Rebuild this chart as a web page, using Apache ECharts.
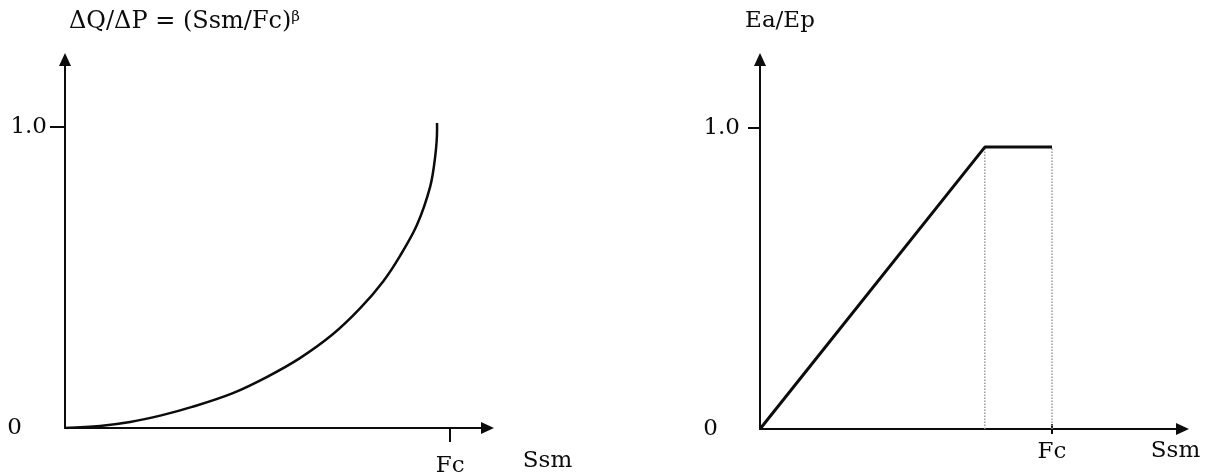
<!DOCTYPE html>
<html>
<head>
<meta charset="utf-8">
<script src="https://cdn.jsdelivr.net/npm/echarts@6/dist/echarts.min.js"></script>
<style>
  html, body { margin: 0; padding: 0; background: #fff; }
  #chart { width: 1211px; height: 474px; }
</style>
</head>
<body>
<div id="chart"></div>
<script>
// Runoff ratio ΔQ/ΔP against soil moisture storage (Ssm, Fc = field capacity)
const runoffSsm   = [0, 0.091, 0.169, 0.250, 0.330, 0.436, 0.525, 0.610, 0.696, 0.766, 0.826, 0.870, 0.914, 0.948, 0.961, 0.966, 0.966];
const runoffRatio = [0, 0.007, 0.020, 0.042, 0.070, 0.116, 0.170, 0.232, 0.312, 0.397, 0.487, 0.572, 0.675, 0.801, 0.900, 0.990, 1.013];

// Actual / potential evapotranspiration against soil moisture storage
const evapSsm   = [0, 0.77, 1.0];
const evapRatio = [0, 0.937, 0.937];

// Dotted guides dropping from the plateau corners to the axis
const guideSsm = [0.77, 1.0];
const guideTop = 0.937;

// Tick labels
const yTickValues = [0, 1];
const yTickLabels = ['0', '1.0'];
const xTickValues = [1];
const xTickLabels = ['Fc'];
const xName = 'Ssm';
const leftTitle = 'ΔQ/ΔP = (Ssm/Fc)';
const leftTitleExp = 'β';
const rightTitle = 'Ea/Ep';

const FONT = 'DejaVu Serif';
const INK = '#0c0c0c';
const FS = 23;

const zip = (xs, ys) => xs.map((x, i) => [x, ys[i]]);

const yLabelFormatter = v => {
  const t = yTickLabels[yTickValues.indexOf(v)];
  return v === 0 ? '{z|' + t + '}' : t;
};
const xLabelFormatter = v => xTickLabels[xTickValues.indexOf(v)];

function xAxisFor(gridIndex, max, tickLen, labelMargin, nameGap, nameLineHeight) {
  return {
    type: 'value', gridIndex, min: 0, max, position: 'bottom',
    splitLine: { show: false },
    axisLine: { show: true, lineStyle: { color: INK, width: 2 },
      symbol: ['none', 'triangle'], symbolSize: [12, 13] },
    axisTick: { show: true, customValues: xTickValues, length: tickLen,
      lineStyle: { color: INK, width: 2 } },
    axisLabel: { show: true, customValues: xTickValues, formatter: xLabelFormatter,
      margin: labelMargin, color: INK, fontFamily: FONT, fontSize: FS },
    name: xName, nameLocation: 'end', nameGap,
    nameTextStyle: { color: INK, fontFamily: FONT, fontSize: FS, align: 'center',
      verticalAlign: 'top', lineHeight: nameLineHeight }
  };
}

function yAxisFor(gridIndex, max, tickLen, labelMargin, zeroPad) {
  return {
    type: 'value', gridIndex, min: 0, max,
    splitLine: { show: false },
    axisLine: { show: true, lineStyle: { color: INK, width: 2 },
      symbol: ['none', 'triangle'], symbolSize: [12, 13] },
    axisTick: { show: true, customValues: [1], length: tickLen,
      lineStyle: { color: INK, width: 2 } },
    axisLabel: { show: true, customValues: yTickValues, formatter: yLabelFormatter,
      margin: labelMargin, color: INK, fontFamily: FONT, fontSize: FS,
      rich: { z: { fontFamily: FONT, fontSize: FS, color: INK, padding: [0, zeroPad, 0, 0] } } }
  };
}

const chart = echarts.init(document.getElementById('chart'), null, { renderer: 'canvas' });

const guideSeries = guideSsm.map(x => ({
  type: 'line', xAxisIndex: 1, yAxisIndex: 1,
  data: [[x, 0], [x, guideTop]],
  symbol: 'none', silent: true, z: 1,
  lineStyle: { color: '#9a9a9a', width: 1.5, type: 'dotted' }
}));

chart.setOption({
  animation: false,
  backgroundColor: '#fff',
  title: [
    {
      text: '{a|' + leftTitle + '}{b|' + leftTitleExp + '}',
      left: 64, top: 5,
      textStyle: {
        fontWeight: 'normal',
        rich: {
          a: { fontFamily: FONT, fontSize: 24, fontWeight: 'normal', color: INK },
          b: { fontFamily: FONT, fontSize: 15, fontWeight: 'normal', color: INK, verticalAlign: 'top' }
        }
      }
    },
    {
      text: rightTitle, left: 775, top: 5, textAlign: 'center',
      textStyle: { fontFamily: FONT, fontSize: FS, fontWeight: 'normal', color: INK }
    }
  ],
  grid: [
    { left: 65, top: 59.5, width: 422.5, height: 368.5, outerBoundsMode: 'none', containLabel: false },
    { left: 760, top: 59.5, width: 422.5, height: 369.5, outerBoundsMode: 'none', containLabel: false }
  ],
  xAxis: [
    xAxisFor(0, 1.097, 14, 27, 60, 66),
    xAxisFor(1, 1.447, 5, 12, -7, 44),
    {
      // inner half of the Fc tick on the right panel
      type: 'value', gridIndex: 1, min: 0, max: 1.447, position: 'bottom',
      splitLine: { show: false }, axisLine: { show: false, onZero: false },
      axisTick: { show: true, inside: true, customValues: xTickValues, length: 5,
        lineStyle: { color: INK, width: 2 } },
      axisLabel: { show: false }
    }
  ],
  yAxis: [
    yAxisFor(0, 1.224, 15, 18, 25),
    yAxisFor(1, 1.228, 12, 20, 22)
  ],
  series: [
    {
      type: 'line', xAxisIndex: 0, yAxisIndex: 0,
      data: zip(runoffSsm, runoffRatio),
      smooth: 0.35, symbol: 'none', z: 3,
      lineStyle: { color: INK, width: 2.5 }
    },
    ...guideSeries,
    {
      type: 'line', xAxisIndex: 1, yAxisIndex: 1,
      data: zip(evapSsm, evapRatio),
      symbol: 'none', z: 3,
      lineStyle: { color: INK, width: 3 }
    }
  ]
});
</script>
</body>
</html>
